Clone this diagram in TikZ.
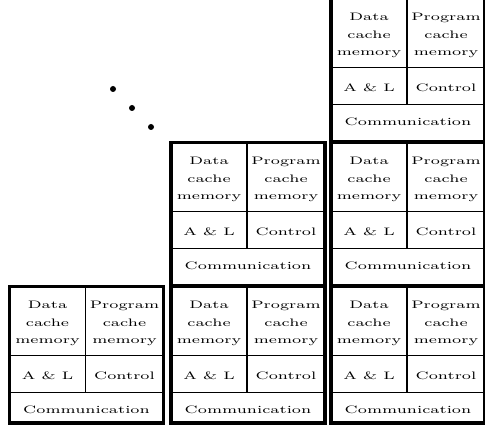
\documentclass[tikz,border=0pt]{standalone}
\begin{document}
\tikzset{
  blockframe/.style={line width=3.6pt},
  celldiv/.style={line width=1.5pt},
  celltext/.style={align=center, inner sep=0pt,
    font=\fontsize{7}{11.4}\selectfont, xscale=2.3, yscale=1.55},
  dotmark/.style={circle, fill=black, inner sep=0pt, minimum size=6pt},
  % one processing element of height #1: two caches, A&L unit, control, communication
  pics/procelem/.style={code={
    \draw[blockframe] (0,0) rectangle (154,#1);
    \draw[celldiv] (76,0) -- (76,106);
    \draw[celldiv] (0,69) -- (154,69);
    \draw[celldiv] (0,106) -- (154,106);
    \node[celltext] (-data) at (38,37) {Data\\cache\\memory};
    \node[celltext] (-prog) at (115,37) {Program\\cache\\memory};
    \node[celltext] (-al)   at (38,89) {A \& L};
    \node[celltext] (-ctl)  at (115,89) {Control};
    \node[celltext] (-comm) at (77,123) {Communication};
  }}
}
\begin{tikzpicture}[x=1pt,y=-1pt]
\useasboundingbox (0,0) rectangle (485,425);
\clip (0,0) rectangle (485,425);
% staircase of processing elements
\pic (pa) at (331,-1.5)  {procelem=143};
\pic (pb) at (171,142.5) {procelem=143};
\pic (pc) at (331,142.5) {procelem=143};
\pic (pd) at (9.5,286.5) {procelem=136.5};
\pic (pm) at (171,286.5) {procelem=136.5};
\pic (pf) at (331,286.5) {procelem=136.5};
% continuation dots
\node[dotmark] (d1) at (113,89) {};
\node[dotmark] (d2) at (132,108) {};
\node[dotmark] (d3) at (151,127) {};
\end{tikzpicture}
\end{document}
